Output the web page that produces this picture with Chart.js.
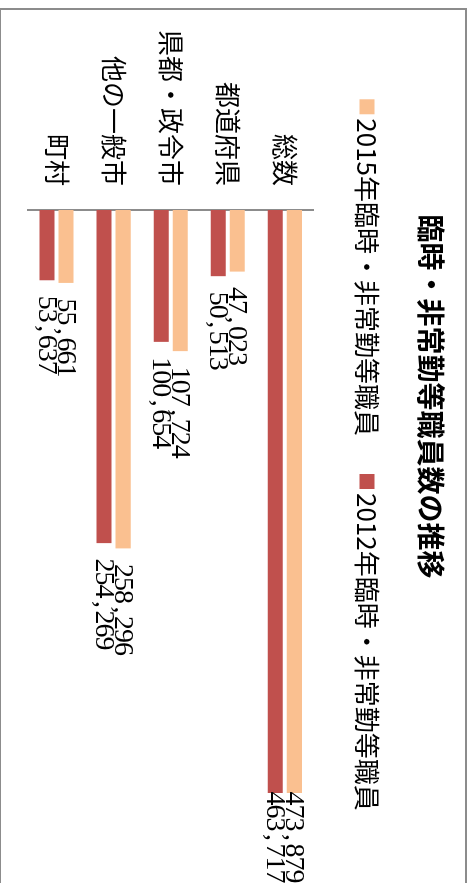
<!DOCTYPE html>
<html lang="ja">
<head>
<meta charset="utf-8">
<title>臨時・非常勤等職員数の推移</title>
<script src="https://cdn.jsdelivr.net/npm/chart.js@4"></script>
<style>
  html, body { margin: 0; padding: 0; overflow: hidden; background: #fff; }
  /* chart is laid out landscape and turned a quarter turn clockwise */
  #stage { position: absolute; left: 0; top: 0; width: 906px; height: 472px;
           transform-origin: 0 0; transform: translateX(472px) rotate(90deg); }
  #frame { position: absolute; left: 8px; top: 5px; width: 895px; height: 468px;
           border: 2px solid #8c8c8c; box-sizing: border-box; }
  #chart { position: absolute; left: 0; top: 0; }
</style>
</head>
<body>
<div id="stage">
  <div id="frame"></div>
  <canvas id="chart" width="906" height="472"></canvas>
</div>
<script>
const categories = ['総数', '都道府県', '県都・政令市', '他の一般市', '町村'];
const staff2015 = [473879, 47023, 107724, 258296, 55661];
const staff2012 = [463717, 50513, 100654, 254269, 53637];
const seriesLabels = ['2015年臨時・非常勤等職員', '2012年臨時・非常勤等職員'];

const JP_FONT = '"Noto Sans CJK JP", "Noto Sans", sans-serif';
const NUM_FONT = '"Liberation Serif", "DejaVu Serif", serif';

// value labels: each digit in a fixed half-width cell, placed past the bar end
const CELL = 13;
const LABEL_GAP = 16;
const LABEL_LIMIT = 883;

const valueLabels = {
  id: 'valueLabels',
  afterDatasetsDraw(chart) {
    const ctx = chart.ctx;
    ctx.save();
    ctx.font = '28px ' + NUM_FONT;
    ctx.fillStyle = '#000';
    ctx.textAlign = 'center';
    ctx.textBaseline = 'middle';
    chart.data.datasets.forEach((ds, i) => {
      chart.getDatasetMeta(i).data.forEach((bar, j) => {
        const text = ds.data[j].toLocaleString('en-US');
        const w = text.length * CELL;
        let x = bar.x + LABEL_GAP;
        if (x + w > LABEL_LIMIT) x = LABEL_LIMIT - w;
        [...text].forEach((ch, k) => ctx.fillText(ch, x + CELL * k + CELL / 2, bar.y + 1));
      });
    });
    ctx.restore();
  }
};

// legend row under the title
const LEGEND_Y = 105;
const BOX = 15;
const BOX_GAP = 4;
const ITEM_GAP = 38;

const legendRow = {
  id: 'legendRow',
  afterDraw(chart) {
    const ctx = chart.ctx;
    ctx.save();
    ctx.font = '26px ' + JP_FONT;
    ctx.textBaseline = 'middle';
    ctx.textAlign = 'left';
    const items = chart.data.datasets.map(ds => ({
      text: ds.label, color: ds.backgroundColor, w: ctx.measureText(ds.label).width
    }));
    const total = items.reduce((s, it) => s + BOX + BOX_GAP + it.w, 0) + ITEM_GAP * (items.length - 1);
    let x = chart.width / 2 + 2 - total / 2;
    items.forEach(it => {
      ctx.fillStyle = it.color;
      ctx.fillRect(x, LEGEND_Y - BOX / 2, BOX, BOX);
      ctx.fillStyle = '#000';
      ctx.fillText(it.text, x + BOX + BOX_GAP, LEGEND_Y);
      x += BOX + BOX_GAP + it.w + ITEM_GAP;
    });
    ctx.restore();
  }
};

new Chart(document.getElementById('chart'), {
  type: 'bar',
  data: {
    labels: categories,
    datasets: [
      { label: seriesLabels[0], data: staff2015, backgroundColor: '#FAC090', clip: 0 },
      { label: seriesLabels[1], data: staff2012, backgroundColor: '#C0504D', clip: 0 }
    ]
  },
  options: {
    indexAxis: 'y',
    responsive: false,
    animation: false,
    categoryPercentage: 0.667,
    barPercentage: 0.79,
    layout: { padding: { left: 0, top: 0, right: 113, bottom: 28 } },
    plugins: {
      legend: { display: false },
      tooltip: { enabled: false },
      title: {
        display: true,
        text: '臨時・非常勤等職員数の推移',
        color: '#000',
        font: { family: JP_FONT, size: 28, weight: 'bold' },
        padding: { top: 25, bottom: 100 }
      }
    },
    scales: {
      x: { display: false, min: 0, max: 445000 },
      y: {
        grid: { display: false, drawTicks: false },
        border: { display: true, color: '#8c8c8c', width: 2 },
        ticks: { padding: 24, color: '#000', font: { family: JP_FONT, size: 26 } },
        afterFit(scale) {
          scale.width = 210;
          scale.paddingTop = 0;
          scale.paddingBottom = 0;
        }
      }
    }
  },
  plugins: [valueLabels, legendRow]
});
</script>
</body>
</html>
